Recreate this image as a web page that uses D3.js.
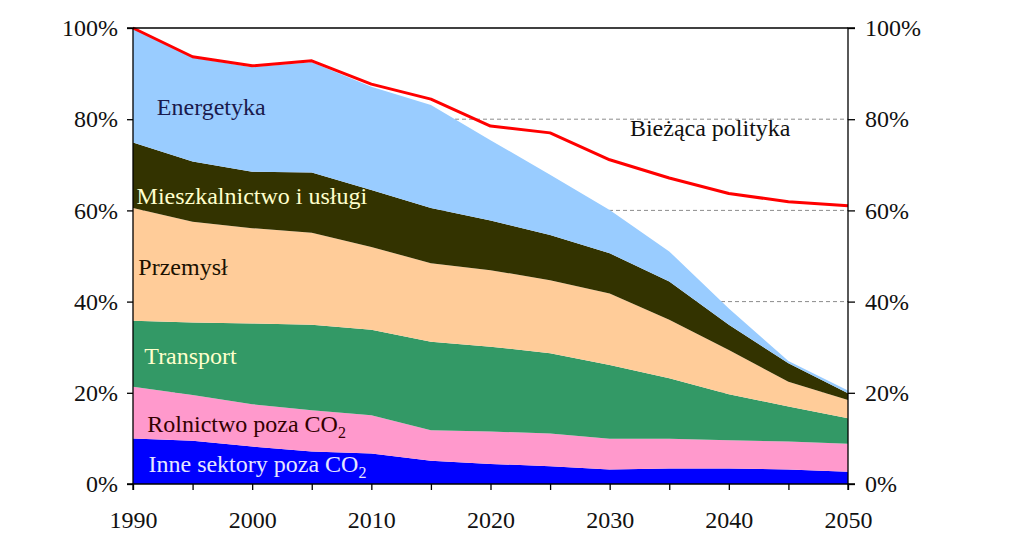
<!DOCTYPE html>
<html>
<head>
<meta charset="utf-8">
<script src="https://cdn.jsdelivr.net/npm/d3@7"></script>
<style>
  html, body { margin: 0; padding: 0; background: #fff; }
  svg { display: block; }
  text { font-family: "Liberation Serif", "Times New Roman", serif; }
</style>
</head>
<body>
<svg id="chart" width="1010" height="559"></svg>
<script>
// ---- data ----
const years = [1990, 1995, 2000, 2005, 2010, 2015, 2020, 2025, 2030, 2035, 2040, 2045, 2050];
const inne        = [10.0, 9.5, 8.2, 7.1, 6.7, 5.1, 4.4, 3.9, 3.2, 3.4, 3.4, 3.2, 2.7];
const rolnictwo   = [11.3, 10.0, 9.3, 9.1, 8.4, 6.7, 7.1, 7.2, 6.7, 6.5, 6.2, 6.1, 6.1];
const transport   = [14.5, 15.9, 17.7, 18.7, 18.7, 19.4, 18.6, 17.6, 16.2, 13.3, 10.1, 7.7, 5.6];
const przemysl    = [24.7, 22.1, 20.9, 20.2, 18.2, 17.2, 16.8, 16.0, 15.7, 12.8, 9.7, 5.4, 4.0];
const mieszk      = [14.4, 13.2, 12.4, 13.2, 12.5, 12.1, 10.9, 9.9, 8.8, 8.4, 5.5, 4.1, 1.5];
const energetyka  = [25.1, 22.8, 22.9, 24.2, 22.6, 22.6, 17.6, 13.2, 9.5, 6.6, 3.6, 0.5, 0.6];
const biezaca     = [100, 93.7, 91.7, 92.8, 87.7, 84.4, 78.5, 77.0, 71.1, 67.1, 63.7, 61.9, 61.0];
const yTicks = [0, 20, 40, 60, 80, 100];
const gridTicks = [20, 40, 60, 80];
const xLabelYears = [1990, 2000, 2010, 2020, 2030, 2040, 2050];

const seriesKeys = ["inne", "rolnictwo", "transport", "przemysl", "mieszk", "energetyka"];
const seriesValues = { inne, rolnictwo, transport, przemysl, mieszk, energetyka };
const colors = {
  inne: "#0000ff", rolnictwo: "#ff99cc", transport: "#339966",
  przemysl: "#ffcc99", mieszk: "#333300", energetyka: "#99ccff"
};

// label annotations (anchored in data space)
const labels = [
  { text: "Energetyka", year: 1992.0, val: 80.9, color: "#1a1a4d" },
  { text: "Mieszkalnictwo i usługi", year: 1990.3, val: 61.4, color: "#ffffcc" },
  { text: "Przemysł", year: 1990.45, val: 45.8, color: "#1a1000" },
  { text: "Transport", year: 1990.95, val: 26.3, color: "#ffffcc" },
  { text: "Rolnictwo poza CO", sub: "2", year: 1991.2, val: 11.4, color: "#330000" },
  { text: "Inne sektory poza CO", sub: "2", year: 1991.3, val: 2.6, color: "#e6e6ff" },
  { text: "Bieżąca polityka", year: 2031.7, val: 76.3, color: "#111111" }
];

// ---- layout ----
const svg = d3.select("#chart");
const x = d3.scaleLinear().domain([1990, 2050]).range([133, 848]);
const y = d3.scaleLinear().domain([0, 100]).range([484, 28]);

const table = years.map((yr, i) => {
  const row = { year: yr };
  seriesKeys.forEach(k => row[k] = seriesValues[k][i]);
  return row;
});
const stacked = d3.stack().keys(seriesKeys)(table);

// gridlines
svg.append("g").selectAll("line").data(gridTicks).join("line")
  .attr("x1", x(1990)).attr("x2", x(2050))
  .attr("y1", d => y(d)).attr("y2", d => y(d))
  .attr("stroke", "#8c8c8c").attr("stroke-width", 1)
  .attr("stroke-dasharray", "4,3");

// areas
const area = d3.area()
  .x(d => x(d.data.year))
  .y0(d => y(d[0]))
  .y1(d => y(d[1]));
svg.append("g").selectAll("path").data(stacked).join("path")
  .attr("d", area)
  .attr("fill", d => colors[d.key]);

// red line
const line = d3.line().x((d, i) => x(years[i])).y(d => y(d));
svg.append("path").datum(biezaca)
  .attr("d", line)
  .attr("fill", "none")
  .attr("stroke", "#ff0000")
  .attr("stroke-width", 3)
  .attr("stroke-linejoin", "round");

// top border
svg.append("line")
  .attr("x1", x(1990)).attr("x2", x(2050))
  .attr("y1", y(100)).attr("y2", y(100))
  .attr("stroke", "#000").attr("stroke-width", 1.3);

// axes
const fontSize = 24;
const leftAxis = d3.axisLeft(y).tickValues(yTicks).tickFormat(d => d + "%").tickSize(6).tickPadding(9);
const rightAxis = d3.axisRight(y).tickValues(yTicks).tickFormat(d => d + "%").tickSize(7).tickPadding(10);
const bottomAxis = d3.axisBottom(x).tickValues(d3.range(1990, 2051, 5))
  .tickFormat(d => xLabelYears.includes(d) ? String(d) : "").tickSize(6).tickPadding(21);

function styleAxis(g) {
  g.select(".domain").attr("stroke", "#000").attr("stroke-width", 1.3);
  g.selectAll(".tick line").attr("stroke", "#000").attr("stroke-width", 1.3);
  g.selectAll(".tick text")
    .attr("fill", "#111")
    .style("font-family", '"Liberation Serif", "Times New Roman", serif')
    .style("font-size", fontSize + "px");
}

svg.append("g").attr("transform", `translate(${x(1990)},0)`).call(leftAxis).call(styleAxis)
  .call(g => g.select(".domain").attr("d", `M-6,${y(100)}H0V${y(0)}H-6`));
svg.append("g").attr("transform", `translate(${x(2050)},0)`).call(rightAxis).call(styleAxis)
  .call(g => g.select(".domain").attr("d", `M7,${y(100)}H0V${y(0)}H7`));
svg.append("g").attr("transform", `translate(0,${y(0)})`).call(bottomAxis).call(styleAxis)
  .call(g => g.select(".domain").attr("d", `M${x(1990)},6V0H${x(2050)}V6`));

// series labels
const lg = svg.append("g");
labels.forEach(l => {
  const t = lg.append("text")
    .attr("x", x(l.year)).attr("y", y(l.val))
    .attr("fill", l.color)
    .style("font-size", fontSize + "px")
    .text(l.text);
  if (l.sub) {
    t.append("tspan").attr("dy", 6).style("font-size", "16px").text(l.sub);
  }
});
</script>
</body>
</html>
